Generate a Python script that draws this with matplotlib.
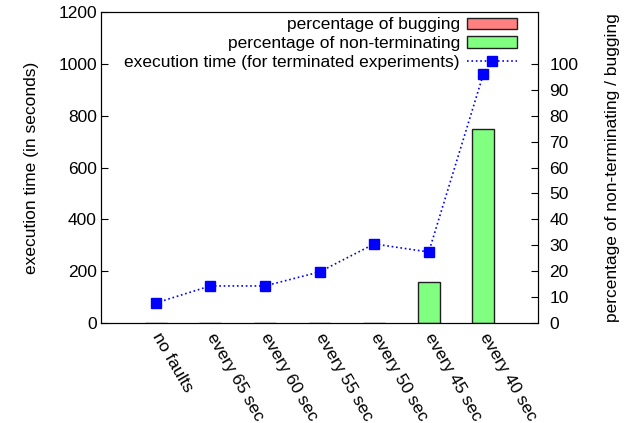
import matplotlib.pyplot as plt
from matplotlib.patches import Patch
import numpy as np

plt.rcParams['font.family'] = ['Liberation Sans', 'DejaVu Sans']
plt.rcParams['font.size'] = 12.5

categories = ['no faults', 'every 65 sec', 'every 60 sec', 'every 55 sec',
              'every 50 sec', 'every 45 sec', 'every 40 sec']
exec_time = [77, 143, 143, 197, 305, 274, 961]
pct_bugging = [0, 0, 0, 0, 0, 0, 0]
pct_nonterm = [0, 0, 0, 0, 0, 16, 75]

x = np.arange(len(categories))

fig = plt.figure(figsize=(6.32, 4.23), dpi=100)
ax = fig.add_axes([0.1598, 0.2364, 0.6915, 0.7352])
ax2 = ax.twinx()

ax2.bar(x, pct_bugging, width=0.4, color='#ff8080', edgecolor='none')
ax2.bar(x, pct_nonterm, width=0.4, color='#80ff80', edgecolor='#202020',
        linewidth=1)
l1, = ax.plot(x, exec_time, color='#0000ff', linestyle=':', linewidth=1.2,
              marker='s', markersize=6.5)

ax.set_zorder(ax2.get_zorder() + 1)
ax.patch.set_visible(False)

ax.set_xlim(-1, 7)
ax.set_ylim(0, 1200)
ax.set_yticks(range(0, 1201, 200))
ax2.set_ylim(0, 120)
ax2.set_yticks(range(0, 101, 10))

ax.set_xticks(x)
ax.set_xticklabels(categories, rotation=-60, ha='left', va='center',
                   rotation_mode='anchor')
ax.tick_params(axis='x', length=0, pad=8)
ax.tick_params(axis='y', direction='in', length=5, pad=3)
ax2.tick_params(axis='y', direction='in', length=5, pad=8)

ax.set_ylabel('execution time (in seconds)', labelpad=14)
ax2.set_ylabel('percentage of non-terminating / bugging', labelpad=19)

h1 = Patch(facecolor='#ff8080', edgecolor='#202020', linewidth=1)
h2 = Patch(facecolor='#80ff80', edgecolor='#202020', linewidth=1)
ax.legend([h1, h2, l1],
          ['percentage of bugging', 'percentage of non-terminating',
           'execution time (for terminated experiments)'],
          loc='upper right', bbox_to_anchor=(1.0, 1.05), frameon=False,
          markerfirst=False, handlelength=2.9, handleheight=0.6,
          handletextpad=0.4, labelspacing=0.22, borderaxespad=0.9,
          borderpad=0.3)

fig.savefig('out.png', dpi=100)
